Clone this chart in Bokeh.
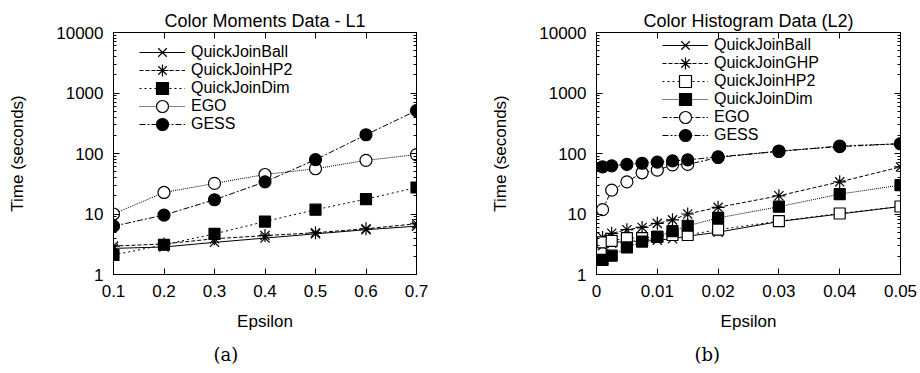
from bokeh.plotting import figure
from bokeh.layouts import row
from bokeh.models import (FixedTicker, LinearAxis, LogAxis, Title, Legend, LegendItem,
                          Range1d)
from bokeh.embed import file_html
from bokeh.resources import INLINE

# ---------------- data (a) ----------------
eps_a = [0.1, 0.2, 0.3, 0.4, 0.5, 0.6, 0.7]
a_ball = [2.7, 2.85, 3.4, 4.0, 4.7, 5.5, 6.3]
a_hp2 = [2.95, 3.2, 3.9, 4.4, 4.9, 5.7, 6.9]
a_dim = [2.1, 3.1, 4.7, 7.5, 11.8, 17.6, 27.4]
a_ego = [10, 22.7, 32, 45, 56, 77, 96]
a_gess = [6.3, 9.6, 17.2, 34, 79, 204, 512]
xticks_a = [0.1, 0.2, 0.3, 0.4, 0.5, 0.6, 0.7]
xlabels_a = ["0.1", "0.2", "0.3", "0.4", "0.5", "0.6", "0.7"]

# ---------------- data (b) ----------------
eps_b = [0.001, 0.0025, 0.005, 0.0075, 0.01, 0.0125, 0.015, 0.02, 0.03, 0.04, 0.05]
b_ball = [3.0, 3.3, 3.6, 3.5, 3.7, 3.9, 4.3, 5.0, 7.5, 10.0, 13.3]
b_ghp = [4.1, 4.8, 5.5, 6.0, 7.0, 8.0, 10.0, 12.9, 20, 34, 60]
b_hp2 = [3.4, 3.6, 4.0, 4.0, 4.2, 4.5, 4.5, 5.5, 7.6, 10.2, 13.3]
b_dim = [1.75, 2.05, 2.8, 3.5, 4.2, 5.2, 6.4, 8.6, 13.2, 21.3, 30]
b_ego = [11.8, 24.8, 34, 48, 53, 65, 66, 86, 110, 130, 145]
b_gess = [60, 62.5, 66, 69, 72, 75.5, 78.5, 88, 108, 133, 145]
xticks_b = [0, 0.01, 0.02, 0.03, 0.04, 0.05]
xlabels_b = ["0", "0.01", "0.02", "0.03", "0.04", "0.05"]

yticks = [1, 10, 100, 1000, 10000]
ylabels = ["1", "10", "100", "1000", "10000"]

SANS = "Liberation Sans"
SERIF = "DejaVu Serif"
FS = "17px"


def make_fig(title, caption, cap_offset, xr, xticks, xlabels, borders):
    left, right, top, bottom = borders
    p = figure(width=460, height=373, y_axis_type="log",
               x_range=Range1d(*xr), y_range=Range1d(1, 10000),
               output_backend="svg", toolbar_location=None,
               min_border_left=left, min_border_right=right,
               min_border_top=top, min_border_bottom=bottom)
    p.background_fill_color = "white"
    p.border_fill_color = "white"
    p.grid.visible = False
    p.outline_line_color = "black"
    p.outline_line_width = 1

    p.title.text = title
    p.title.align = "center"
    p.title.text_font = SANS
    p.title.text_font_style = "normal"
    p.title.text_font_size = "18px"
    p.title.text_color = "black"
    p.title.standoff = 3

    minor = [m * 10 ** k for k in range(0, 4) for m in range(2, 10)]
    p.yaxis.ticker = FixedTicker(ticks=yticks, minor_ticks=minor)
    p.yaxis.major_label_overrides = dict(zip(yticks, ylabels))
    p.xaxis.ticker = FixedTicker(ticks=xticks)
    p.xaxis.major_label_overrides = dict(zip(xticks, xlabels))

    for ax in (p.xaxis[0], p.yaxis[0]):
        ax.major_tick_in = 6
        ax.major_tick_out = 0
        ax.minor_tick_in = 3
        ax.minor_tick_out = 0
        ax.axis_line_color = "black"
        ax.major_tick_line_color = "black"
        ax.minor_tick_line_color = "black"
        ax.major_label_text_font = SANS
        ax.major_label_text_font_size = FS
        ax.major_label_text_color = "black"
        ax.axis_label_text_font = SANS
        ax.axis_label_text_font_style = "normal"
        ax.axis_label_text_font_size = FS
        ax.axis_label_text_color = "black"
    p.xaxis.major_label_standoff = 10
    p.yaxis.major_label_standoff = 10
    p.xaxis.minor_tick_line_color = None
    p.xaxis.axis_label = "Epsilon"
    p.xaxis.axis_label_standoff = 12
    p.yaxis.axis_label = "Time (seconds)"
    p.yaxis.axis_label_standoff = 26

    # mirrored axes (ticks only, labels not drawn)
    top_ax = LinearAxis(ticker=FixedTicker(ticks=xticks), major_tick_in=6, major_tick_out=0,
                        minor_tick_line_color=None, major_label_text_color=None,
                        major_label_text_font_size="2px", major_label_standoff=0,
                        axis_line_color="black")
    right_ax = LogAxis(ticker=FixedTicker(ticks=yticks, minor_ticks=minor), major_tick_in=6,
                       major_tick_out=0, minor_tick_in=3, minor_tick_out=0,
                       major_label_text_color=None, major_label_text_font_size="2px",
                       major_label_standoff=0, axis_line_color="black")
    p.add_layout(top_ax, "above")
    p.add_layout(right_ax, "right")

    # sub-figure caption below the x axis
    cap = Title(text=caption, align="left", offset=cap_offset, text_font=SERIF,
                text_font_style="normal", text_font_size="18px", text_color="black",
                standoff=17)
    p.add_layout(cap, "below")
    return p


def add_series(p, x, y, dash, marker, fill, size):
    r1 = p.line(x, y, line_color="black", line_width=1, line_dash=dash)
    r2 = p.scatter(x, y, marker=marker, size=size, line_color="black", line_width=1.2,
                   fill_color=fill)
    return [r1, r2]


def add_legends(p, items, vx, vy0, pitch):
    # one legend per entry so that entries can sit closer than the glyph box height
    for i, item in enumerate(items):
        leg = Legend(items=[item], location=(vx, vy0 - i * pitch), background_fill_alpha=0,
                     border_line_color=None, label_text_font=SANS,
                     label_text_font_size="16px", label_text_color="black",
                     glyph_width=46, glyph_height=30, label_height=30, spacing=0,
                     padding=2, margin=0, label_standoff=6)
        p.add_layout(leg)


# ---------------- figure (a) ----------------
pa = make_fig("Color Moments Data - L1", "(a)", 100, (0.1, 0.7), xticks_a, xlabels_a,
              (113, 44, 32, 97))
items_a = [
    LegendItem(label="QuickJoinBall", renderers=add_series(pa, eps_a, a_ball, "solid", "x", None, 13)),
    LegendItem(label="QuickJoinHP2", renderers=add_series(pa, eps_a, a_hp2, "4 2", "asterisk", None, 13)),
    LegendItem(label="QuickJoinDim", renderers=add_series(pa, eps_a, a_dim, "2 3", "square", "black", 11)),
    LegendItem(label="EGO", renderers=add_series(pa, eps_a, a_ego, "1 1", "circle", "white", 12)),
    LegendItem(label="GESS", renderers=add_series(pa, eps_a, a_gess, "6 2 2 2", "circle", "black", 12)),
]
add_legends(pa, items_a, 26, 207, 18)

# ---------------- figure (b) ----------------
pb = make_fig("Color Histogram Data (L2)", "(b)", 98, (0, 0.05), xticks_b, xlabels_b,
              (136, 20, 32, 99))
items_b = [
    LegendItem(label="QuickJoinBall", renderers=add_series(pb, eps_b, b_ball, "solid", "x", None, 13)),
    LegendItem(label="QuickJoinGHP", renderers=add_series(pb, eps_b, b_ghp, "4 2", "asterisk", None, 13)),
    LegendItem(label="QuickJoinHP2", renderers=add_series(pb, eps_b, b_hp2, "2 3", "square", "white", 11)),
    LegendItem(label="QuickJoinDim", renderers=add_series(pb, eps_b, b_dim, "1 1", "square", "black", 11)),
    LegendItem(label="EGO", renderers=add_series(pb, eps_b, b_ego, "5 2 2 2", "circle", "white", 12)),
    LegendItem(label="GESS", renderers=add_series(pb, eps_b, b_gess, "6 2 2 2 2 2", "circle", "black", 12)),
]
add_legends(pb, items_b, 66, 214, 18)

layout = row(pa, pb)
open("out.html", "w").write(file_html(layout, INLINE))
